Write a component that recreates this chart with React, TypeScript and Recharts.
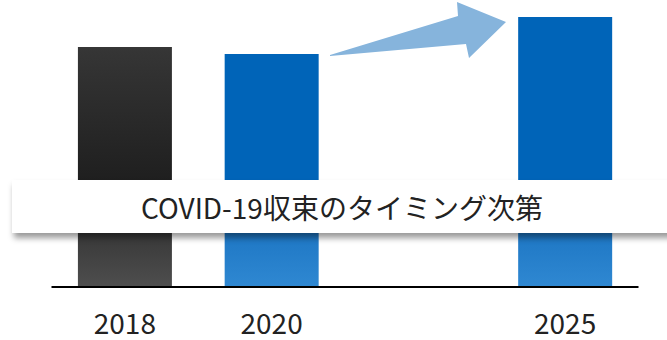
import React from 'react';
import { BarChart, Bar, XAxis, YAxis, Cell } from 'recharts';

const categories = ['2018', '2020', '', '2025'];
const values = [88.9, 86.3, null, 100];
const fills = ['url(#gradDark)', 'url(#gradBlue)', 'url(#gradBlue)', 'url(#gradBlue)'];
const note = 'COVID-19収束のタイミング次第';

const data = categories.map((year, i) => ({ year, value: values[i] }));

const FONT = '"Noto Sans CJK JP", "Noto Sans", sans-serif';

export default function App() {
  return (
    <div style={{ position: 'absolute', left: 0, top: 0, width: 667, height: 340, background: '#fff', fontFamily: FONT, overflow: 'hidden' }}>
      <BarChart
        width={667}
        height={340}
        data={data}
        margin={{ top: 17, right: 28.5, bottom: 0, left: 51.5 }}
        barCategoryGap="18%"
      >
        <defs>
          <linearGradient id="gradDark" gradientUnits="userSpaceOnUse" x1="0" y1="0" x2="0" y2="287">
            <stop offset="0.16" stopColor="#363636" />
            <stop offset="0.627" stopColor="#1f1f1f" />
            <stop offset="0.812" stopColor="#383838" />
            <stop offset="1" stopColor="#4e4e4e" />
          </linearGradient>
          <linearGradient id="gradBlue" gradientUnits="userSpaceOnUse" x1="0" y1="0" x2="0" y2="287">
            <stop offset="0" stopColor="#0064b8" />
            <stop offset="0.627" stopColor="#0064b8" />
            <stop offset="0.812" stopColor="#1e77c4" />
            <stop offset="1" stopColor="#2f88d2" />
          </linearGradient>
        </defs>
        <XAxis
          dataKey="year"
          height={53}
          tickLine={false}
          axisLine={{ stroke: '#000', strokeWidth: 2 }}
          tickMargin={21}
          tick={{ fill: '#222', fontSize: 28, fontFamily: FONT }}
          interval={0}
        />
        <YAxis hide domain={[0, 100]} />
        <Bar dataKey="value" isAnimationActive={false}>
          {data.map((d, i) => (
            <Cell key={`cell-${i}`} fill={fills[i]} />
          ))}
        </Bar>
      </BarChart>

      {/* growth arrow */}
      <svg width={667} height={340} style={{ position: 'absolute', left: 0, top: 0, pointerEvents: 'none' }}>
        <polygon
          points="330,55 458,16 457,2 506,22 469,58 466,44 330,56"
          fill="#86b4dc"
        />
      </svg>

      {/* note banner */}
      <div
        style={{
          position: 'absolute',
          left: 12,
          top: 180,
          width: 670,
          height: 53,
          background: '#fff',
          boxShadow: '2px 5px 6px rgba(0,0,0,0.4)',
          display: 'flex',
          alignItems: 'center',
          justifyContent: 'center',
          fontSize: 28,
          color: '#222',
          paddingRight: 10,
          boxSizing: 'border-box',
        }}
      >
        {note}
      </div>
    </div>
  );
}
